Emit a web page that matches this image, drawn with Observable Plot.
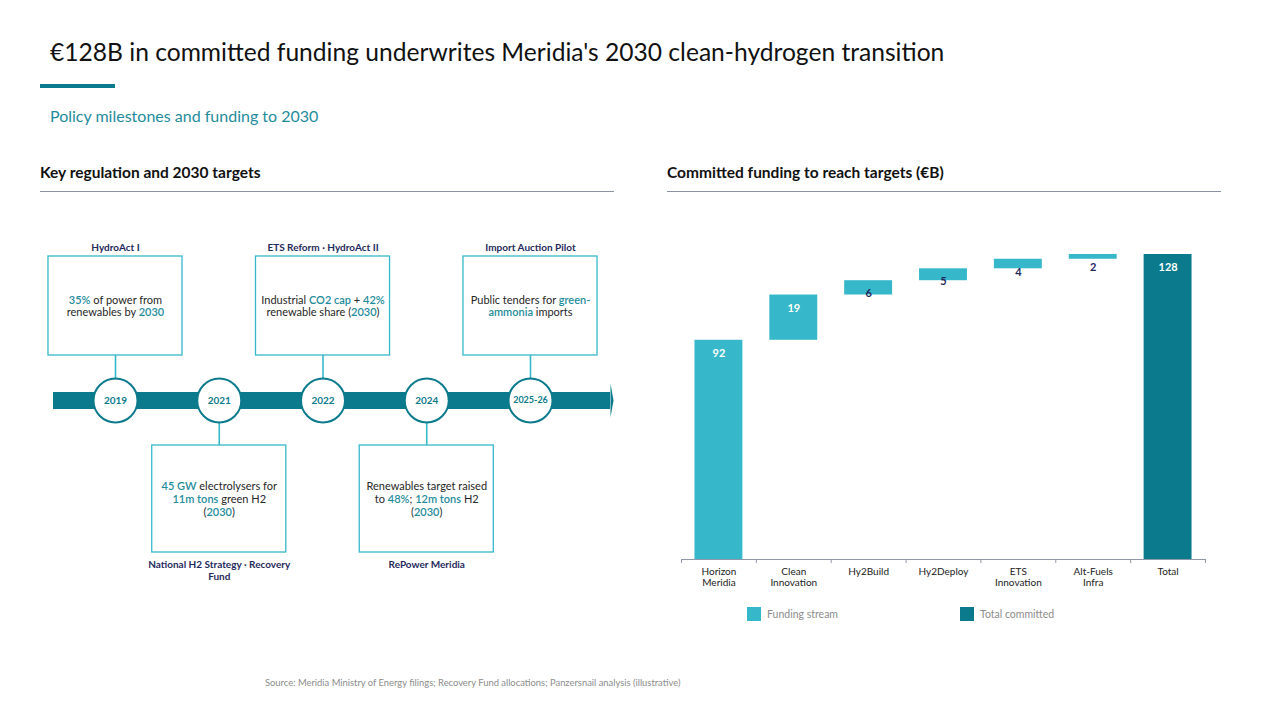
<!DOCTYPE html>
<html>
<head>
<meta charset="utf-8">
<script src="https://cdn.jsdelivr.net/npm/d3@7"></script>
<script src="https://cdn.jsdelivr.net/npm/@observablehq/plot@0.6"></script>
<style>
  body { margin: 0; background: #fff; font-family: Lato, "Open Sans", sans-serif; }
  #page { position: relative; width: 1280px; height: 720px; overflow: hidden; background: #fff; }
  .abs { position: absolute; white-space: nowrap; line-height: 1.2; }
  .heading { font-size: 15.5px; font-weight: 700; color: #111; }
  .rule { height: 1px; background: #8A93A3; }
  .swatch { position: absolute; width: 14px; height: 14px; }
  .legend-text { font-size: 10.5px; color: #8C8C8C; }
</style>
</head>
<body>
<div id="page">
  <div class="abs" style="left:50px;top:37px;font-size:24.6px;color:#111;">€128B in committed funding underwrites Meridia's 2030 clean-hydrogen transition</div>
  <div class="abs" style="left:40px;top:84px;width:75px;height:4px;background:#0B7A8C;"></div>
  <div class="abs" style="left:50px;top:106px;font-size:16px;color:#1F8C9C;">Policy milestones and funding to 2030</div>

  <div class="abs heading" style="left:40px;top:163px;">Key regulation and 2030 targets</div>
  <div class="abs rule" style="left:40px;top:191px;width:574px;"></div>
  <div class="abs heading" style="left:667px;top:163px;">Committed funding to reach targets (€B)</div>
  <div class="abs rule" style="left:667px;top:191px;width:554px;"></div>

  <div id="timeline" class="abs" style="left:0;top:200px;"></div>
  <div id="waterfall" class="abs" style="left:640px;top:200px;"></div>

  <div class="swatch" style="left:747px;top:607px;background:#36B8CA;"></div>
  <div class="abs legend-text" style="left:767px;top:608px;">Funding stream</div>
  <div class="swatch" style="left:960px;top:607px;background:#0B7A8C;"></div>
  <div class="abs legend-text" style="left:980px;top:608px;">Total committed</div>

  <div class="abs" style="left:265px;top:677px;font-size:9.4px;color:#8C8C8C;">Source: Meridia Ministry of Energy filings; Recovery Fund allocations; Panzersnail analysis (illustrative)</div>
</div>

<script>
// ---- Timeline data ----
const milestones = ["2019", "2021", "2022", "2024", "2025-26"];
const actNames = [
  "HydroAct I",
  "National H2 Strategy · Recovery\nFund",
  "ETS Reform · HydroAct II",
  "RePower Meridia",
  "Import Auction Pilot"
];
// Bracketed phrases are drawn as highlighted figures
const actTargets = [
  "[35%] of power from\nrenewables by [2030]",
  "[45 GW] electrolysers for\n[11m tons] green H2\n([2030])",
  "Industrial [CO2 cap] + [42%]\nrenewable share ([2030])",
  "Renewables target raised\nto [48%]; [12m tons] H2\n([2030])",
  "Public tenders for [green-]\n[ammonia] imports"
];
const actSide = ["above", "below", "above", "below", "above"];

// ---- Funding data (€B) ----
const streams = ["Horizon Meridia", "Clean Innovation", "Hy2Build", "Hy2Deploy", "ETS Innovation", "Alt-Fuels Infra"];
const streamValues = [92, 19, 6, 5, 4, 2];
const totalLabel = "Total";
const totalValue = 128;
const tickLabels = ["Horizon\nMeridia", "Clean\nInnovation", "Hy2Build", "Hy2Deploy", "ETS\nInnovation", "Alt-Fuels\nInfra", "Total"];

// ---- Palette ----
const DARK = "#0B7A8C";
const LIGHT = "#36B8CA";
const NAVY = "#1F2A5C";
const HIGHLIGHT = "#1F8C9C";
const AXIS = "#8F98A8";
const FONT = "Lato, 'Open Sans', sans-serif";

// Turn [phrase] markers into coloured, heavier tspans
function highlightPhrases(svg) {
  const ns = "http://www.w3.org/2000/svg";
  svg.querySelectorAll("text, tspan").forEach(el => {
    if (el.children.length) return;
    const s = el.textContent;
    if (!s.includes("[")) return;
    el.textContent = "";
    s.split(/(\[[^\]]*\])/).forEach(part => {
      if (!part) return;
      const t = document.createElementNS(ns, "tspan");
      if (part.startsWith("[")) {
        t.textContent = part.slice(1, -1);
        t.setAttribute("fill", HIGHLIGHT);
        t.setAttribute("font-weight", "600");
      } else {
        t.textContent = part;
      }
      el.appendChild(t);
    });
  });
}

// ---- Timeline ----
{
  const rows = milestones.map((year, i) => ({
    i, year, name: actNames[i], target: actTargets[i], up: actSide[i] === "above"
  }));
  const half = 0.646;           // box half-width in milestone steps
  const ringR = 22;
  const arrowTip = {
    draw(ctx) { ctx.moveTo(0, -17); ctx.lineTo(3, 0); ctx.lineTo(0, 17); ctx.closePath(); }
  };
  const chart = Plot.plot({
    width: 640, height: 400,
    marginLeft: 53, marginRight: 30, marginTop: 0, marginBottom: 0,
    x: {domain: [0, milestones.length - 1], range: [115, 530], axis: null},
    y: {domain: [200, -200], range: [0, 400], axis: null},
    style: {fontFamily: FONT, background: "transparent"},
    marks: [
      Plot.ruleY([0], {stroke: DARK, strokeWidth: 17}),
      Plot.dot([0], {y: d => d, frameAnchor: "right", symbol: arrowTip, r: 1, fill: DARK, stroke: null}),
      Plot.ruleX(rows, {x: "i", y1: d => d.up ? ringR : -ringR, y2: d => d.up ? 45 : -45, stroke: LIGHT, strokeWidth: 1.6}),
      Plot.rect(rows, {
        x1: d => d.i - half, x2: d => d.i + half,
        y1: d => d.up ? 45 : -45, y2: d => d.up ? 144 : -152,
        fill: "white", stroke: LIGHT, strokeWidth: 1.3
      }),
      Plot.dot(rows, {x: "i", y: d => 0, r: ringR, fill: "white", stroke: DARK, strokeWidth: 2}),
      Plot.text(rows, {x: "i", y: d => 0, text: "year", fill: DARK, fontWeight: 700,
        fontSize: d => d.year.length > 4 ? 9 : 10}),
      Plot.text(rows, {x: "i", y: d => d.up ? 94.5 : -98.5, text: "target",
        fontSize: 11, lineHeight: 1.15, fill: "#262626"}),
      Plot.text(rows.filter(d => d.up), {x: "i", y: d => 153, text: "name",
        fontSize: 10, fontWeight: 700, fill: NAVY}),
      Plot.text(rows.filter(d => !d.up), {x: "i", y: d => -159, text: "name", lineAnchor: "top",
        fontSize: 10, fontWeight: 700, fill: NAVY, lineHeight: 1.2})
    ]
  });
  highlightPhrases(chart);
  document.getElementById("timeline").appendChild(chart);
}

// ---- Waterfall ----
{
  let running = 0;
  const rows = streams.map((cat, k) => {
    const start = running;
    running += streamValues[k];
    return {cat, start, end: running, value: streamValues[k], kind: "Funding stream"};
  });
  rows.push({cat: totalLabel, start: 0, end: totalValue, value: totalValue, kind: "Total committed"});
  const categories = rows.map(d => d.cat);

  const W = 600, H = 420, mL = 41, mR = 35, mT = 54, mB = 61;
  const step = (W - mL - mR) / categories.length;
  const pxPerUnit = (H - mT - mB) / totalValue;

  const chart = Plot.plot({
    width: W, height: H,
    marginLeft: mL, marginRight: mR, marginTop: mT, marginBottom: mB,
    x: {type: "band", domain: categories, paddingInner: 0.36, paddingOuter: 0.18, align: 0.5, round: false},
    y: {domain: [0, totalValue], axis: null},
    color: {domain: ["Funding stream", "Total committed"], range: [LIGHT, DARK]},
    style: {fontFamily: FONT, background: "transparent"},
    marks: [
      Plot.barY(rows, {x: "cat", y1: "start", y2: "end", fill: "kind"}),
      Plot.ruleY([0], {stroke: AXIS, strokeWidth: 1.2}),
      Plot.axisX({tickSize: 4, fill: "none", stroke: AXIS, dx: -step / 2, label: null}),
      Plot.axisX([totalLabel], {tickSize: 4, fill: "none", stroke: AXIS, dx: step / 2, label: null}),
      Plot.axisX({
        tickSize: 0, tickPadding: 7, label: null, fill: "#222", fontSize: 10, lineHeight: 1.15,
        tickFormat: d => tickLabels[categories.indexOf(d)]
      }),
      Plot.text(rows, {
        x: "cat", y: "end", text: d => String(d.value), dy: 13,
        fontSize: 11, fontWeight: 700,
        fill: d => d.value * pxPerUnit > 20 ? "white" : NAVY
      })
    ]
  });
  document.getElementById("waterfall").appendChild(chart);
}
</script>
</body>
</html>
